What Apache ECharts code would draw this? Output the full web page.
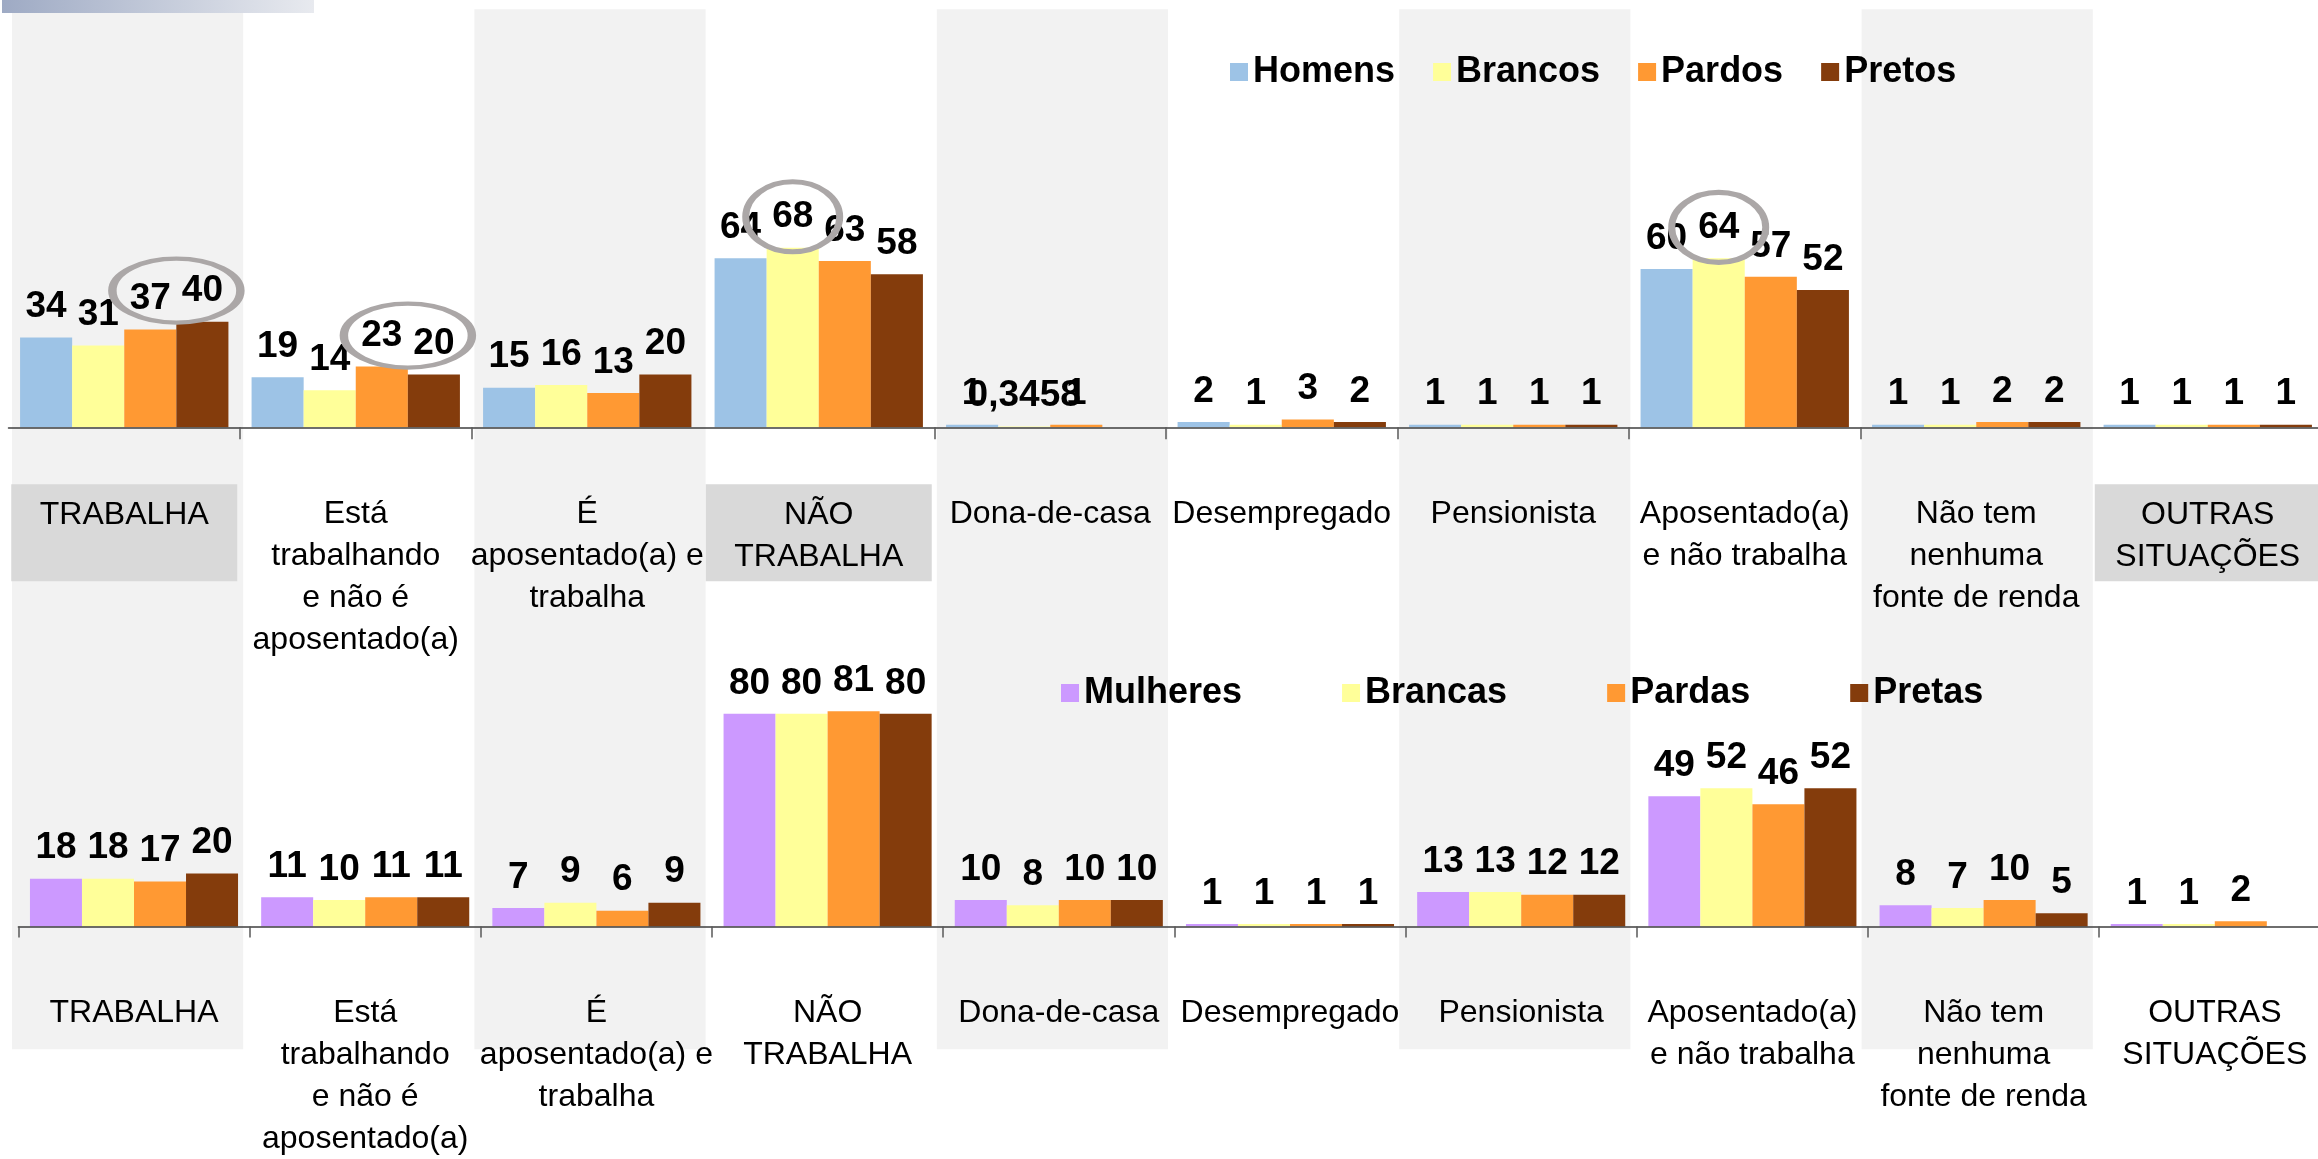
<!DOCTYPE html>
<html><head><meta charset="utf-8">
<script src="https://cdn.jsdelivr.net/npm/echarts@6/dist/echarts.min.js"></script>
<style>html,body{margin:0;padding:0;background:#fff}#c{width:2318px;height:1159px}</style>
</head><body><div id="c"></div>
<script>
// ---------- DATA ----------
const categories = ['TRABALHA', 'Está\ntrabalhando\ne não é\naposentado(a)', 'É\naposentado(a) e\ntrabalha', 'NÃO\nTRABALHA', 'Dona-de-casa', 'Desempregado', 'Pensionista', 'Aposentado(a)\ne não trabalha', 'Não tem\nnenhuma\nfonte de renda', 'OUTRAS\nSITUAÇÕES'];
const boxedCategories = [0, 3, 9];

const menNames = ['Homens', 'Brancos', 'Pardos', 'Pretos'];
const homens  = [34, 19, 15, 64, 1, 2, 1, 60, 1, 1];
const brancos = [31, 14, 16, 68, 0.3458, 1, 1, 64, 1, 1];
const pardos  = [37, 23, 13, 63, 1, 3, 1, 57, 2, 1];
const pretos  = [40, 20, 20, 58, null, 2, 1, 52, 2, 1];

const womenNames = ['Mulheres', 'Brancas', 'Pardas', 'Pretas'];
const mulheres = [18, 11, 7, 80, 10, 1, 13, 49, 8, 1];
const brancas  = [18, 10, 9, 80, 8, 1, 13, 52, 7, 1];
const pardas   = [17, 11, 6, 81, 10, 1, 12, 46, 10, 2];
const pretas   = [20, 11, 9, 80, 10, 1, 12, 52, 5, null];

// circled values in the upper chart: [category index, first series index, last series index]
const topHighlights = [[0, 2, 3], [1, 2, 3], [3, 1, 1], [7, 1, 1]];

// ---------- STYLE ----------
const menColors = ['#9DC3E6', '#FFFF99', '#FF9933', '#843C0C'];
const womenColors = ['#CC99FF', '#FFFF99', '#FF9933', '#843C0C'];
const numFont = "'Liberation Sans', Arial, sans-serif";
const catFont = "'Liberation Sans', Arial, sans-serif";
const ELLIPSE = 'path://M0,50A50,50 0 1 1 100,50A50,50 0 1 1 0,50Z';

const chart = echarts.init(document.getElementById('c'), null, {renderer: 'canvas'});

function barLabel() {
  return {
    show: true, position: 'top', distance: 12,
    fontFamily: numFont, fontWeight: 'bold', fontSize: 37, color: '#000',
    formatter: p => String(p.value).replace('.', ',')
  };
}

const menData = [homens, brancos, pardos, pretos];
const womenData = [mulheres, brancas, pardas, pretas];

const series = [];
menNames.forEach((name, i) => {
  const s = {
    name, type: 'bar', xAxisIndex: 0, yAxisIndex: 0,
    data: menData[i], barGap: 0, barCategoryGap: '10%',
    itemStyle: {color: menColors[i]}, label: barLabel(), animation: false
  };
  const marks = topHighlights.filter(h => h[2] === i).map(h => {
    const vals = menData.slice(h[1], h[2] + 1).map(a => a[h[0]]);
    const pair = h[2] > h[1];
    return {
      coord: [h[0], Math.max(...vals)],
      symbolSize: pair ? [128, 64] : [94, 70],
      symbolOffset: [pair ? -26 : 0, -31]
    };
  });
  if (marks.length) {
    s.markPoint = {
      symbol: ELLIPSE, symbolKeepAspect: false, silent: true, animation: false,
      itemStyle: {color: 'rgba(0,0,0,0)', borderColor: '#ABA7A7', borderWidth: 6},
      label: {show: false}, data: marks
    };
  }
  series.push(s);
});
womenNames.forEach((name, i) => {
  series.push({
    name, type: 'bar', xAxisIndex: 2, yAxisIndex: 1,
    data: womenData[i], barGap: 0, barCategoryGap: '10%',
    itemStyle: {color: womenColors[i]}, label: barLabel(), animation: false
  });
});

const plainLabel = {
  fontFamily: catFont, fontSize: 32, lineHeight: 42, color: '#000', margin: 66, hideOverlap: false
};
const axisLineStyle = {show: true, lineStyle: {color: '#3F3F3F', width: 1.5}};

chart.setOption({
  animation: false,
  backgroundColor: '#fff',
  grid: [
    {left: 8.5, right: -5.5, top: 163.3, height: 264, containLabel: false, outerBoundsMode: 'none'},
    {left: 18.4, right: -12.4, top: 660.6, height: 266, containLabel: false, outerBoundsMode: 'none'},
    {left: 12, right: -6, top: 9.3, bottom: 109.7, containLabel: false, outerBoundsMode: 'none'}
  ],
  xAxis: [
    {type: 'category', gridIndex: 0, position: 'bottom', data: categories, z: 3,
     axisLine: axisLineStyle,
     axisTick: {show: true, length: 12, lineStyle: {color: '#595959', width: 1.5}},
     axisLabel: Object.assign({}, plainLabel, {interval: (idx) => !boxedCategories.includes(idx)})},
    {type: 'category', gridIndex: 0, position: 'bottom', data: categories,
     axisLine: {show: false}, axisTick: {show: false},
     axisLabel: {fontFamily: catFont, fontSize: 32, lineHeight: 42, color: '#000', margin: 57, hideOverlap: false,
       backgroundColor: '#D9D9D9', width: 226, height: 87, padding: [10, 0, 0, 0], align: 'center',
       interval: (idx) => boxedCategories.includes(idx)}},
    {type: 'category', gridIndex: 1, position: 'bottom', data: categories, z: 3,
     axisLine: axisLineStyle,
     axisTick: {show: true, length: 11, lineStyle: {color: '#595959', width: 1.5}},
     axisLabel: Object.assign({}, plainLabel, {interval: 0})},
    {type: 'category', gridIndex: 2, data: categories,
     axisLine: {show: false}, axisTick: {show: false}, axisLabel: {show: false},
     splitArea: {show: true, areaStyle: {color: ['#F2F2F2', 'rgba(255,255,255,0)']}}}
  ],
  yAxis: [
    {type: 'value', gridIndex: 0, min: 0, max: 100, show: false},
    {type: 'value', gridIndex: 1, min: 0, max: 100, show: false},
    {type: 'value', gridIndex: 2, min: 0, max: 100, show: false}
  ],
  legend: [
    {data: menNames, left: 1230, top: 54, padding: 0, itemGap: 38, itemWidth: 18, itemHeight: 18,
     icon: 'rect', selectedMode: false,
     textStyle: {fontFamily: numFont, fontWeight: 'bold', fontSize: 36, color: '#000'}},
    {data: womenNames, left: 1061, top: 675, padding: 0, itemGap: 100, itemWidth: 18, itemHeight: 18,
     icon: 'rect', selectedMode: false,
     textStyle: {fontFamily: numFont, fontWeight: 'bold', fontSize: 36, color: '#000'}}
  ],
  graphic: [
    {type: 'rect', left: 2, top: 0, z: 100, shape: {width: 312, height: 13},
     style: {fill: new echarts.graphic.LinearGradient(0, 0, 1, 0, [
       {offset: 0, color: '#9EAAC4'}, {offset: 1, color: '#E8EAEF'}])}}
  ],
  series
});
</script></body></html>
